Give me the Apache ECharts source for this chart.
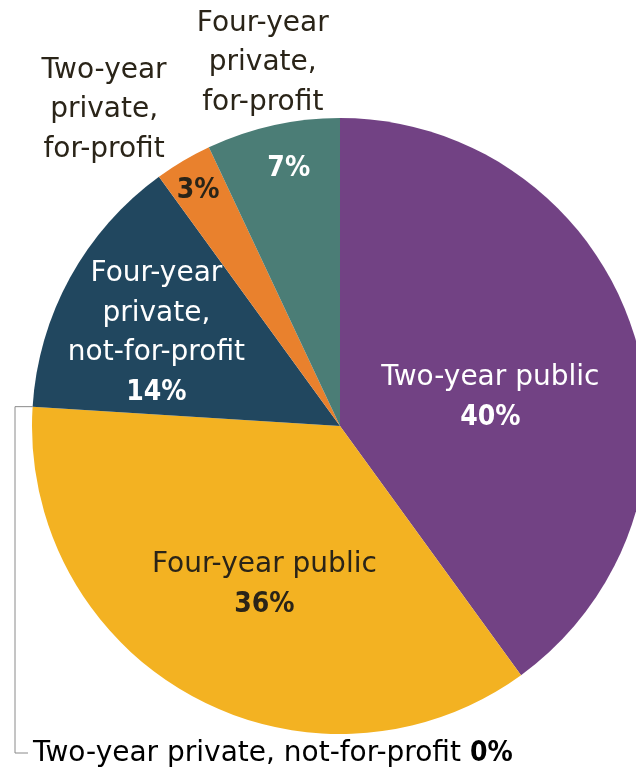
<!DOCTYPE html>
<html>
<head>
<meta charset="utf-8">
<script src="https://cdn.jsdelivr.net/npm/echarts@6/dist/echarts.min.js"></script>
<style>
html,body{margin:0;padding:0;background:#fff;}
#chart{width:636px;height:775px;}
</style>
</head>
<body>
<div id="chart"></div>
<script>
// ---- data ----
var categories = [
  'Two-year public',
  'Four-year public',
  'Two-year private, not-for-profit',
  'Four-year private, not-for-profit',
  'Two-year private, for-profit',
  'Four-year private, for-profit'
];
var shortNames = [
  'Two-year public',
  'Four-year public',
  'Two-year private, not-for-profit',
  'Four-year\nprivate,\nnot-for-profit',
  'Two-year\nprivate,\nfor-profit',
  'Four-year\nprivate,\nfor-profit'
];
var values = [40, 36, 0, 14, 3, 7];
var colors = ['#724284', '#F3B222', '#cccccc', '#21475F', '#E9812D', '#4B7D76'];

// ---- style / layout ----
var FONT = '"DejaVu Sans", "Noto Sans", sans-serif';
var BFONT = '"DejaVu Sans Condensed", "DejaVu Sans", sans-serif';
var FS = 28, LH = 39.5;
var DARK = '#2a2418';
var CX = 340, CY = 426, R = 308;
var nameInside = [true, true, false, true, false, false];
var darkText = [false, true, false, false, true, false];
var showPct = [true, true, false, true, true, true];
var nameOutside = [false, false, false, false, true, true];
var pctOffsets = [[1, 20], [0, 21], [0, 0], [-46, -17], [-62, -100], [-17, -104]];
var nameOffsets = [[0, 0], [0, 0], [0, 0], [0, 0], [-156, -181], [-43, -210]];

var chart = echarts.init(document.getElementById('chart'), null, {renderer: 'canvas'});

function richFor(color) {
  return {
    n: {fontFamily: FONT, fontSize: FS, lineHeight: LH, color: color, align: 'center'},
    p: {fontFamily: BFONT, fontSize: FS, lineHeight: LH, fontWeight: 'bold', color: color, align: 'center'}
  };
}

var data1 = categories.map(function (c, i) {
  var col = darkText[i] ? DARK : '#ffffff';
  var txt = '';
  if (nameInside[i]) {
    txt = shortNames[i].split('\n').map(function (s) { return '{n|' + s + '}'; }).join('\n') + '\n';
  }
  txt += '{p|' + values[i] + '%}';
  return {
    name: c,
    value: values[i],
    itemStyle: {color: colors[i]},
    label: {show: showPct[i], formatter: txt, rich: richFor(col)}
  };
});

var data2 = categories.map(function (c, i) {
  var txt = shortNames[i].split('\n').map(function (s) { return '{n|' + s + '}'; }).join('\n');
  return {
    name: c,
    value: values[i],
    itemStyle: {color: 'rgba(0,0,0,0)'},
    label: {show: nameOutside[i], formatter: txt, rich: richFor(DARK)}
  };
});

// bracket for the zero slice, computed from the data
var total = values.reduce(function (a, b) { return a + b; }, 0);
var cum = 0;
for (var k = 0; k < 2; k++) cum += values[k];
var ang = (90 - 360 * cum / total) * Math.PI / 180;
var ex = CX + R * Math.cos(ang), ey = CY - R * Math.sin(ang);
var bx = 15, by = 753;

chart.setOption({
  animation: false,
  backgroundColor: '#ffffff',
  series: [
    {
      type: 'pie',
      center: [CX, CY],
      radius: [0, R],
      startAngle: 90,
      clockwise: true,
      silent: true,
      label: {position: 'inside'},
      labelLine: {show: false},
      itemStyle: {borderWidth: 0},
      labelLayout: function (p) {
        var o = pctOffsets[p.dataIndex];
        return {dx: o[0], dy: o[1]};
      },
      data: data1
    },
    {
      type: 'pie',
      center: [CX, CY],
      radius: [0, R],
      startAngle: 90,
      clockwise: true,
      silent: true,
      z: 3,
      label: {position: 'inside'},
      labelLine: {show: false},
      itemStyle: {borderWidth: 0},
      labelLayout: function (p) {
        var o = nameOffsets[p.dataIndex];
        return {dx: o[0], dy: o[1]};
      },
      data: data2
    }
  ],
  graphic: [
    {
      type: 'polyline',
      shape: {points: [[ex, ey], [bx, ey], [bx, by], [bx + 13, by]]},
      style: {stroke: '#8a8a8a', lineWidth: 1, fill: null}
    },
    {
      type: 'text',
      x: 33,
      y: by + 1,
      style: {
        text: '{n|' + categories[2] + ' }{p|' + values[2] + '%}',
        verticalAlign: 'middle',
        rich: {
          n: {fontFamily: FONT, fontSize: FS, color: DARK},
          p: {fontFamily: BFONT, fontSize: FS, fontWeight: 'bold', color: DARK}
        }
      }
    }
  ]
});
</script>
</body>
</html>
